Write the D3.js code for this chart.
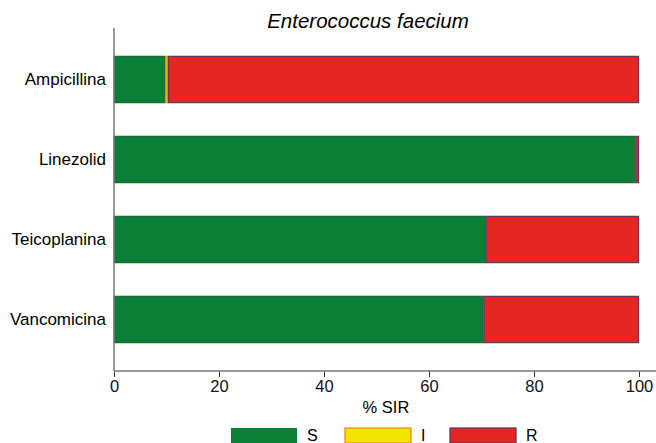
<!DOCTYPE html>
<html>
<head>
<meta charset="utf-8">
<script src="https://cdn.jsdelivr.net/npm/d3@7"></script>
<style>
  body { margin: 0; background: #fff; }
  svg { font-family: "Liberation Sans", Arial, sans-serif; }
</style>
</head>
<body>
<div id="chart"></div>
<script>
// Data
const drugs = ["Ampicillina", "Linezolid", "Teicoplanina", "Vancomicina"];
const sVals = [9.8, 99.3, 70.8, 70.4];
const iVals = [0.5, 0, 0, 0];
const rVals = [89.7, 0.7, 29.2, 29.6];
const keys = ["S", "I", "R"];
const xTicks = [0, 20, 40, 60, 80, 100];

const fills = { S: "#0a7f37", I: "#f4e500", R: "#e42624" };
const strokes = { S: "#1d6b3a", I: "#f08a10", R: "#5e3a62" };

const rows = drugs.map((d, i) => ({ drug: d, S: sVals[i], I: iVals[i], R: rVals[i] }));
const stacked = d3.stack().keys(keys)(rows);

const svg = d3.select("#chart")
  .append("svg")
  .attr("width", 656)
  .attr("height", 443);

const margin = { top: 39, left: 114 };
const x = d3.scaleLinear().domain([0, 100]).range([margin.left, 639]);
const y = d3.scaleBand().domain(drugs).range([39.5, 359.5]).paddingInner(0.41).paddingOuter(0.205);

// Title
svg.append("text")
  .attr("x", 368)
  .attr("y", 28)
  .attr("text-anchor", "middle")
  .style("font-size", "20.5px")
  .style("font-style", "italic")
  .text("Enterococcus faecium");

// Bars
svg.append("g")
  .selectAll("g")
  .data(stacked)
  .join("g")
  .attr("fill", d => fills[d.key])
  .attr("stroke", d => strokes[d.key])
  .selectAll("rect")
  .data(d => d.filter(s => s[1] - s[0] > 0))
  .join("rect")
  .attr("x", d => x(d[0]) + 0.5)
  .attr("y", d => y(d.data.drug) + 0.5)
  .attr("width", d => Math.max(x(d[1]) - x(d[0]) - 1, 1))
  .attr("height", y.bandwidth() - 1)
  .attr("stroke-width", 1.3);

// Axes
const axisColor = "#777";
svg.append("line")
  .attr("x1", margin.left).attr("x2", margin.left)
  .attr("y1", 28).attr("y2", 371)
  .attr("stroke", axisColor).attr("stroke-width", 1.5);

svg.append("g")
  .selectAll("text")
  .data(drugs)
  .join("text")
  .attr("x", 106)
  .attr("y", d => y(d) + y.bandwidth() / 2)
  .attr("dy", "0.35em")
  .attr("text-anchor", "end")
  .style("font-size", "17px")
  .text(d => d);

const xAxis = svg.append("g")
  .attr("transform", "translate(0,371)")
  .call(d3.axisBottom(x).tickValues(xTicks).tickSize(6).tickSizeOuter(0).tickPadding(3));
xAxis.select(".domain").remove();
xAxis.append("line")
  .attr("x1", margin.left).attr("x2", 656)
  .attr("stroke", axisColor).attr("stroke-width", 1.5);
xAxis.selectAll(".tick line").attr("stroke", "#333").attr("y1", 0).attr("y2", 6);
xAxis.selectAll(".tick text")
  .attr("fill", "#111")
  .style("font-size", "16.5px")
  .style("font-family", "'Liberation Sans', Arial, sans-serif");

svg.append("text")
  .attr("x", 386)
  .attr("y", 413)
  .attr("text-anchor", "middle")
  .style("font-size", "16.5px")
  .text("% SIR");

// Legend
const legendX = [231, 345, 450];
const legend = svg.append("g")
  .selectAll("g")
  .data(keys)
  .join("g")
  .attr("transform", (d, i) => `translate(${legendX[i]},428)`);
legend.append("rect")
  .attr("width", 66)
  .attr("height", 15)
  .attr("fill", d => fills[d])
  .attr("stroke", d => d === "S" ? "none" : strokes[d])
  .attr("stroke-width", 1.3);
legend.append("text")
  .attr("x", 76)
  .attr("y", 13)
  .style("font-size", "16px")
  .text(d => d);
</script>
</body>
</html>
